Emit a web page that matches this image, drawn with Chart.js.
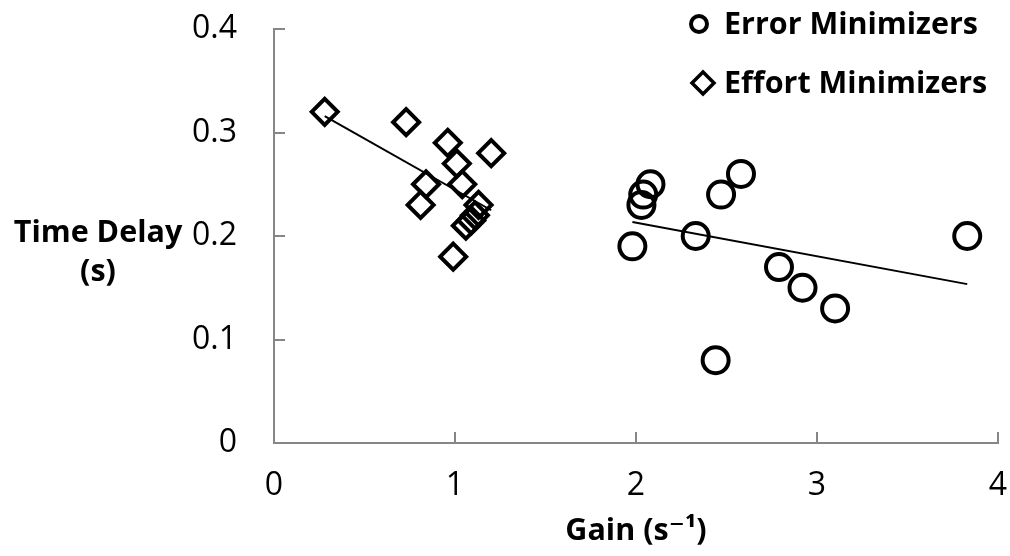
<!DOCTYPE html>
<html>
<head>
<meta charset="utf-8">
<script src="https://cdn.jsdelivr.net/npm/chart.js@4.4.1/dist/chart.umd.min.js"></script>
<style>
  html, body { margin: 0; padding: 0; background: #fff; }
  #wrap { width: 1010px; height: 556px; }
</style>
</head>
<body>
<div id="wrap"><canvas id="delayChart"></canvas></div>
<script>
// Error minimizers (circles)
const errorGain  = [2.08, 2.04, 2.03, 2.58, 2.47, 1.98, 2.33, 3.83, 2.79, 2.92, 3.10, 2.44];
const errorDelay = [0.25, 0.24, 0.23, 0.26, 0.24, 0.19, 0.20, 0.20, 0.17, 0.15, 0.13, 0.08];
// Effort minimizers (diamonds)
const effortGain  = [0.28, 0.73, 0.96, 1.20, 1.01, 0.84, 1.04, 0.81, 1.13, 1.11, 1.09, 1.06, 0.99];
const effortDelay = [0.32, 0.31, 0.29, 0.28, 0.27, 0.25, 0.25, 0.23, 0.23, 0.22, 0.215, 0.21, 0.18];

const xTicks = [0, 1, 2, 3, 4];
const yTicks = [0, 0.1, 0.2, 0.3, 0.4];
const seriesNames = ['Error Minimizers', 'Effort Minimizers'];

const FONT = '"Open Sans", "DejaVu Sans", sans-serif';

function toPoints(xs, ys) {
    return xs.map((x, i) => ({ x: x, y: ys[i] }));
}

// least squares trend line over the data range
function trend(xs, ys) {
    const n = xs.length;
    const mx = xs.reduce((a, b) => a + b, 0) / n;
    const my = ys.reduce((a, b) => a + b, 0) / n;
    let sxy = 0, sxx = 0;
    for (let i = 0; i < n; i++) {
        sxy += (xs[i] - mx) * (ys[i] - my);
        sxx += (xs[i] - mx) * (xs[i] - mx);
    }
    const b = sxy / sxx;
    const a = my - b * mx;
    const x0 = Math.min(...xs), x1 = Math.max(...xs);
    return [{ x: x0, y: a + b * x0 }, { x: x1, y: a + b * x1 }];
}

// horizontal y title, legend block at top right, inward tick marks
const extras = {
    id: 'extras',
    afterDraw(chart) {
        const ctx = chart.ctx;
        ctx.save();
        ctx.fillStyle = '#000';
        ctx.font = 'bold 30.5px ' + FONT;
        ctx.textAlign = 'center';
        ctx.textBaseline = 'middle';
        ctx.fillText('Time Delay', 98, 233);
        ctx.fillText('(s)', 98, 272);

        ctx.textAlign = 'left';
        ctx.fillText(seriesNames[0], 724, 25);
        ctx.fillText(seriesNames[1], 724, 84);

        ctx.fillStyle = '#fff';
        ctx.strokeStyle = '#000';
        ctx.lineWidth = 4;
        Chart.helpers.drawPoint(ctx, { pointStyle: 'circle', radius: 8, borderWidth: 4 }, 699, 24);
        ctx.lineWidth = 3.5;
        Chart.helpers.drawPoint(ctx, { pointStyle: 'rectRot', radius: 11, borderWidth: 3.5 }, 703, 83);

        const xs = chart.scales.x, ys = chart.scales.y;
        const area = chart.chartArea;
        ctx.strokeStyle = '#868686';
        ctx.lineWidth = 2;
        ctx.beginPath();
        xTicks.forEach(v => {
            const px = Math.round(xs.getPixelForValue(v));
            ctx.moveTo(px, area.bottom);
            ctx.lineTo(px, area.bottom - 11);
        });
        yTicks.forEach(v => {
            const py = Math.round(ys.getPixelForValue(v));
            ctx.moveTo(area.left, py);
            ctx.lineTo(area.left + 11, py);
        });
        ctx.stroke();
        ctx.restore();
    }
};

const ctx = document.getElementById('delayChart').getContext('2d');
const delayChart = new Chart(ctx, {
    type: 'scatter',
    data: {
        datasets: [
            {
                label: seriesNames[0],
                data: toPoints(errorGain, errorDelay),
                pointStyle: 'circle',
                pointRadius: 13,
                pointBorderWidth: 4,
                borderColor: '#000',
                backgroundColor: 'rgba(0,0,0,0)'
            },
            {
                label: seriesNames[1],
                data: toPoints(effortGain, effortDelay),
                pointStyle: 'rectRot',
                pointRadius: 13,
                pointBorderWidth: 4,
                borderColor: '#000',
                backgroundColor: 'rgba(0,0,0,0)'
            },
            {
                label: 'error trend',
                data: trend(errorGain, errorDelay),
                showLine: true,
                borderColor: '#000',
                borderWidth: 2,
                pointRadius: 0
            },
            {
                label: 'effort trend',
                data: trend(effortGain, effortDelay),
                showLine: true,
                borderColor: '#000',
                borderWidth: 2,
                pointRadius: 0
            }
        ]
    },
    options: {
        responsive: true,
        maintainAspectRatio: false,
        animation: false,
        layout: { autoPadding: false, padding: { left: 0, right: 12, top: 29, bottom: 0 } },
        plugins: {
            legend: { display: false },
            tooltip: { enabled: false }
        },
        scales: {
            x: {
                type: 'linear',
                min: 0,
                max: 4,
                afterBuildTicks: s => { s.ticks = xTicks.map(v => ({ value: v })); },
                ticks: { color: '#000', padding: 24, font: { family: FONT, size: 32 } },
                grid: { display: false, drawTicks: false },
                border: { display: true, color: '#868686', width: 2 },
                title: {
                    display: true,
                    text: 'Gain (s⁻¹)',
                    color: '#000',
                    font: { family: FONT, size: 30.5, weight: 'bold' },
                    padding: { top: 0, bottom: 6 }
                },
                afterFit: s => {
                    s.height = 113;
                    s.paddingLeft = 0; s.paddingRight = 0;
                    s.paddingTop = 0; s.paddingBottom = 0;
                }
            },
            y: {
                type: 'linear',
                min: 0,
                max: 0.4,
                afterBuildTicks: s => { s.ticks = yTicks.map(v => ({ value: v })); },
                ticks: { color: '#000', padding: 37, font: { family: FONT, size: 32 } },
                grid: { display: false, drawTicks: false },
                border: { display: true, color: '#868686', width: 2 },
                afterFit: s => {
                    s.width = 274;
                    s.paddingLeft = 0; s.paddingRight = 0;
                    s.paddingTop = 0; s.paddingBottom = 0;
                }
            }
        }
    },
    plugins: [extras]
});
</script>
</body>
</html>
